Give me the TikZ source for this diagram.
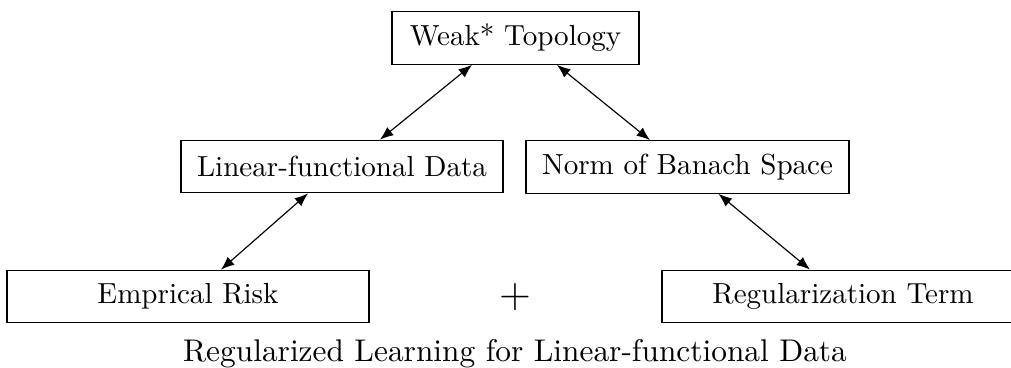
\documentclass[tikz,border=0pt]{standalone}
\usetikzlibrary{arrows.meta}
\begin{document}
\begin{tikzpicture}[x=0.3442pt,y=-0.3442pt,
  box/.style={draw,inner sep=0pt,minimum height=18.1pt,align=center},
  link/.style={{Latex[length=4.6pt,width=3.6pt]}-{Latex[length=4.6pt,width=3.6pt]}}]
\clip (0,0) rectangle (1011,368);
\useasboundingbox (0,0) rectangle (1011,368);
\node[box,minimum width=85.0pt] (W) at (515.5,38) {Weak* Topology};
\node[box,minimum width=110.8pt] (L) at (342,166.5) {Linear-functional Data};
\node[box,minimum width=111.2pt] (N) at (687.5,167) {Norm of Banach Space};
\node[box,minimum width=124.6pt] (E) at (188,296.5) {Emprical Risk};
\node[box,minimum width=124.6pt] (R) at (843,296.5) {Regularization Term};
\node (P) at (515,297) {\Large $+$};
\node[anchor=base,inner sep=0pt,font=\fontsize{10.8}{13}\selectfont] (C) at (515,361) {Regularized Learning for Linear-functional Data};
\draw[link] ([xshift=-43.5*0.3442pt]W.south) -- ([xshift=38*0.3442pt]L.north);
\draw[link] ([xshift=41.5*0.3442pt]W.south) -- ([xshift=-37.5*0.3442pt]N.north);
\draw[link] ([xshift=-34*0.3442pt]L.south) -- ([xshift=33*0.3442pt]E.north);
\draw[link] ([xshift=31*0.3442pt]N.south) -- ([xshift=-33*0.3442pt]R.north);
\end{tikzpicture}
\end{document}
